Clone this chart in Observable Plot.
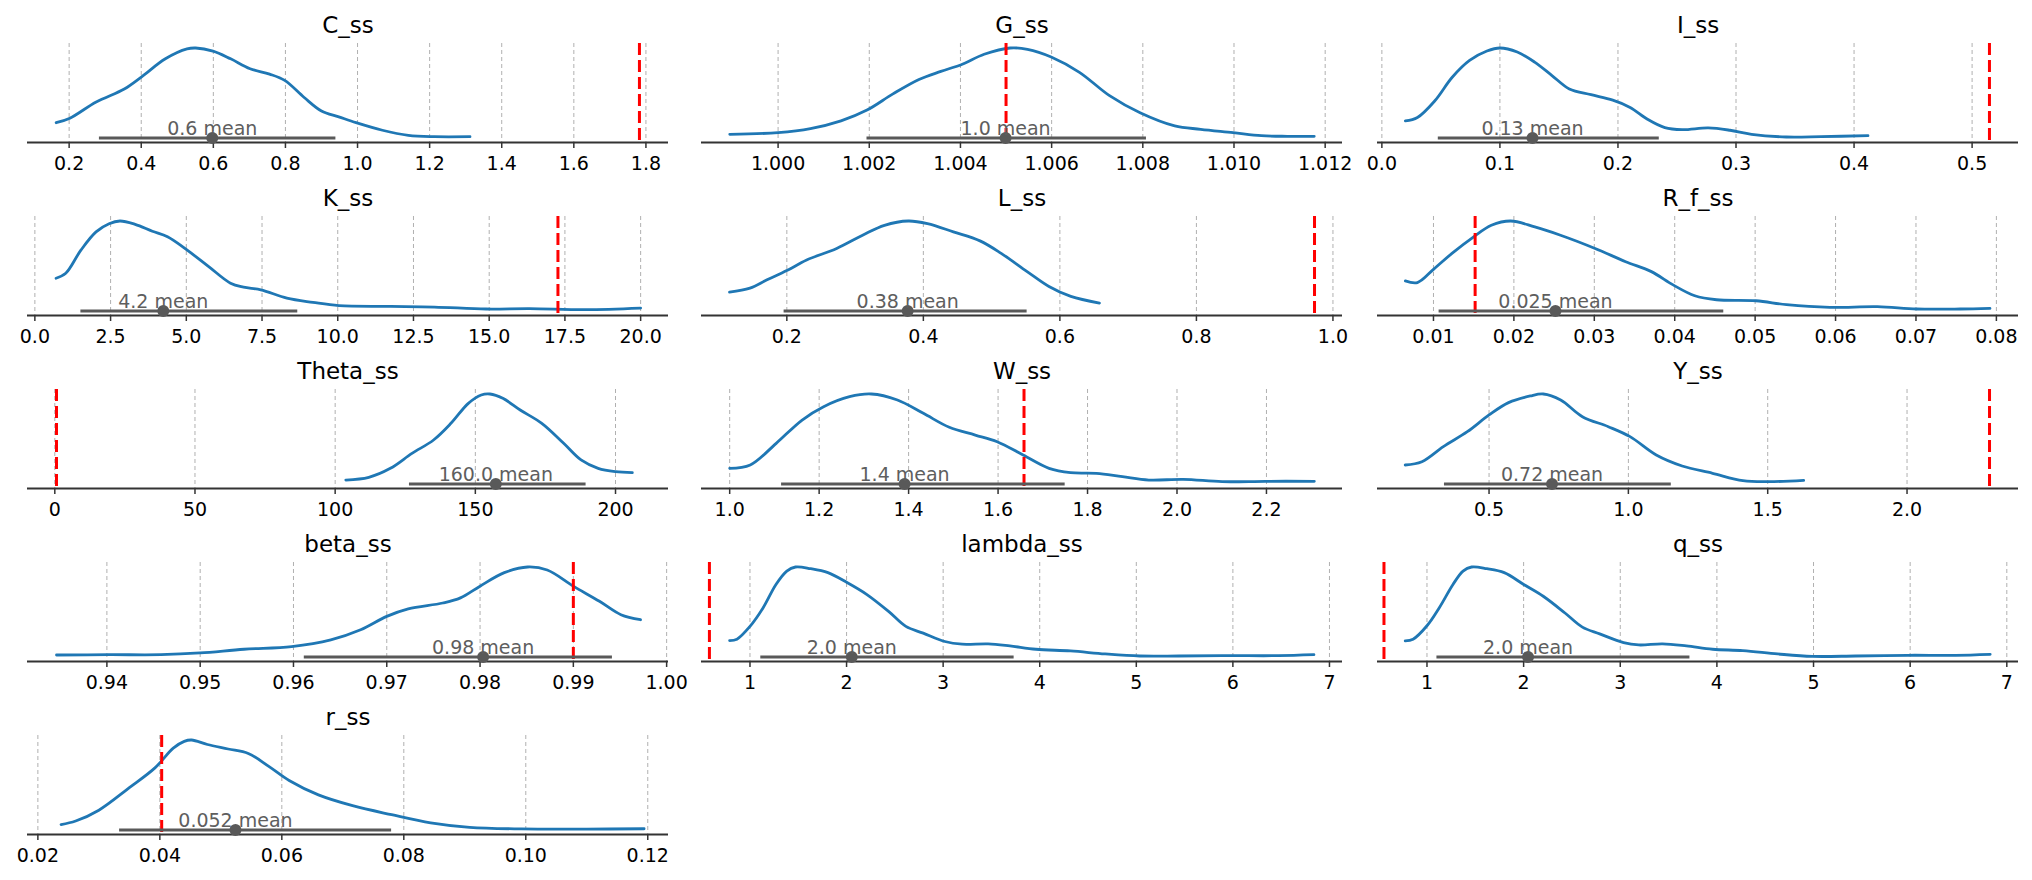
<!DOCTYPE html>
<html>
<head>
<meta charset="utf-8">
<script src="https://cdn.jsdelivr.net/npm/d3@7"></script>
<script src="https://cdn.jsdelivr.net/npm/@observablehq/plot@0.6"></script>
<style>
  html, body { margin: 0; padding: 0; background: white; }
  #root { position: relative; width: 2032px; height: 880px; overflow: hidden; background: white; }
  #root > svg { position: absolute; }
</style>
</head>
<body>
<div id="root"></div>
<script>
// ---- Data ----
const names = ["C_ss","G_ss","I_ss","K_ss","L_ss","R_f_ss","Theta_ss","W_ss","Y_ss","beta_ss","lambda_ss","q_ss","r_ss"];

// KDE curves: [value, density normalised to peak = 1]
const kde_C_ss = [[0.164,0.17],[0.202,0.22],[0.275,0.40],[0.353,0.545],[0.401,0.68],[0.467,0.88],[0.527,0.99],[0.551,1.0],[0.599,0.966],[0.648,0.88],[0.702,0.77],[0.756,0.71],[0.798,0.64],[0.852,0.45],[0.900,0.30],[0.948,0.235],[0.996,0.17],[1.069,0.086],[1.141,0.03],[1.213,0.015],[1.312,0.015]];
const kde_G_ss = [[0.99894,0.041],[1.0000,0.06],[1.00071,0.104],[1.00138,0.19],[1.00195,0.31],[1.00252,0.49],[1.00309,0.65],[1.00357,0.74],[1.00404,0.82],[1.00452,0.93],[1.00509,1.0],[1.00547,0.985],[1.00599,0.90],[1.00661,0.73],[1.00727,0.47],[1.00794,0.28],[1.00870,0.134],[1.00927,0.097],[1.00998,0.06],[1.01060,0.026],[1.01117,0.019],[1.01176,0.019]];
const kde_I_ss = [[0.0199,0.19],[0.0301,0.228],[0.0449,0.414],[0.0596,0.675],[0.0743,0.862],[0.0890,0.966],[0.1000,1.0],[0.1147,0.955],[0.1294,0.843],[0.1441,0.694],[0.1588,0.545],[0.1772,0.481],[0.1956,0.42],[0.2103,0.34],[0.2250,0.209],[0.2397,0.116],[0.2544,0.093],[0.2765,0.112],[0.2949,0.086],[0.3132,0.041],[0.3426,0.011],[0.3721,0.015],[0.4118,0.026]];
const kde_K_ss = [[0.70,0.364],[1.02,0.419],[1.52,0.676],[2.02,0.879],[2.45,0.97],[2.81,1.0],[3.31,0.963],[3.88,0.886],[4.38,0.824],[5.03,0.676],[5.74,0.493],[6.46,0.309],[6.89,0.265],[7.46,0.235],[8.32,0.143],[9.18,0.096],[10.04,0.059],[11.75,0.051],[13.19,0.044],[14.9,0.022],[16.33,0.026],[18.19,0.015],[20.0,0.033]];
const kde_L_ss = [[0.116,0.21],[0.146,0.254],[0.171,0.346],[0.200,0.449],[0.229,0.566],[0.273,0.695],[0.311,0.842],[0.343,0.952],[0.378,1.0],[0.406,0.971],[0.444,0.879],[0.483,0.779],[0.514,0.64],[0.552,0.4375],[0.584,0.272],[0.616,0.162],[0.658,0.088]];
const kde_R_f_ss = [[0.0065,0.335],[0.0080,0.316],[0.0100,0.463],[0.0123,0.64],[0.0150,0.824],[0.0172,0.952],[0.0196,1.0],[0.0226,0.934],[0.0258,0.842],[0.0301,0.695],[0.0339,0.548],[0.0371,0.4375],[0.0398,0.29],[0.0425,0.169],[0.0452,0.125],[0.0501,0.114],[0.0539,0.07],[0.0593,0.04],[0.0652,0.048],[0.0701,0.022],[0.0755,0.022],[0.0792,0.029]];
const kde_Theta_ss = [[103.8,0.044],[112.0,0.074],[119.7,0.174],[127.4,0.34],[135.1,0.489],[141.3,0.674],[147.5,0.896],[152.1,0.989],[155.2,1.0],[159.8,0.952],[166.0,0.822],[173.7,0.674],[181.5,0.452],[187.7,0.267],[193.8,0.174],[200.0,0.137],[206.0,0.126]];
const kde_W_ss = [[1.000,0.174],[1.046,0.211],[1.104,0.452],[1.162,0.711],[1.210,0.859],[1.268,0.97],[1.317,1.0],[1.375,0.933],[1.433,0.785],[1.491,0.63],[1.549,0.544],[1.598,0.47],[1.656,0.322],[1.714,0.174],[1.762,0.126],[1.820,0.119],[1.878,0.081],[1.937,0.044],[2.014,0.052],[2.101,0.026],[2.198,0.03],[2.307,0.03]];
const kde_Y_ss = [[0.199,0.211],[0.259,0.248],[0.336,0.415],[0.422,0.581],[0.500,0.767],[0.570,0.904],[0.648,0.978],[0.695,1.0],[0.757,0.933],[0.835,0.748],[0.928,0.637],[1.006,0.526],[1.100,0.322],[1.193,0.2],[1.302,0.119],[1.411,0.037],[1.505,0.026],[1.629,0.041]];
const kde_beta_ss = [[0.9346,0.022],[0.9402,0.026],[0.9458,0.026],[0.9500,0.045],[0.9547,0.086],[0.9598,0.116],[0.9640,0.19],[0.9672,0.302],[0.9700,0.451],[0.9723,0.534],[0.9760,0.60],[0.9779,0.657],[0.9800,0.787],[0.9826,0.937],[0.9851,1.0],[0.9872,0.966],[0.9900,0.787],[0.9928,0.619],[0.9951,0.47],[0.9972,0.414]];
const kde_lambda_ss = [[0.789,0.183],[0.865,0.198],[1.000,0.34],[1.135,0.545],[1.269,0.806],[1.381,0.955],[1.471,1.0],[1.628,0.981],[1.807,0.937],[2.009,0.825],[2.211,0.694],[2.435,0.507],[2.614,0.34],[2.794,0.265],[3.018,0.172],[3.197,0.142],[3.466,0.146],[3.691,0.123],[3.960,0.086],[4.318,0.067],[4.677,0.034],[5.036,0.011],[5.439,0.011],[5.933,0.015],[6.471,0.015],[6.839,0.026]];
const kde_q_ss = [[0.775,0.179],[0.856,0.198],[1.000,0.347],[1.126,0.545],[1.269,0.806],[1.373,0.955],[1.462,1.0],[1.620,0.981],[1.799,0.937],[2.001,0.806],[2.203,0.675],[2.428,0.489],[2.608,0.332],[2.787,0.257],[3.034,0.16],[3.191,0.134],[3.438,0.146],[3.685,0.123],[3.955,0.086],[4.269,0.071],[4.628,0.034],[4.987,0.007],[5.436,0.011],[5.975,0.019],[6.469,0.019],[6.828,0.03]];
const kde_r_ss = [[0.0238,0.06],[0.0262,0.10],[0.0300,0.22],[0.0350,0.47],[0.0392,0.69],[0.0422,0.91],[0.0440,0.985],[0.0452,1.0],[0.0478,0.95],[0.0512,0.90],[0.0545,0.85],[0.0578,0.71],[0.0612,0.55],[0.0660,0.39],[0.0716,0.27],[0.0780,0.17],[0.0844,0.08],[0.0908,0.03],[0.0993,0.012],[0.1100,0.01],[0.1194,0.014]];

const means      = [0.597, 1.00499, 0.1276, 4.24, 0.377, 0.02517, 157.3, 1.391, 0.726, 0.98033, 2.054, 2.046, 0.0524];
const meanLabels = ["0.6 mean","1.0 mean","0.13 mean","4.2 mean","0.38 mean","0.025 mean","160.0 mean","1.4 mean","0.72 mean","0.98 mean","2.0 mean","2.0 mean","0.052 mean"];
const hdiLow     = [0.284, 1.00195, 0.0478, 1.52, 0.196, 0.0107, 126.5, 1.116, 0.340, 0.96116, 1.112, 1.103, 0.0334];
const hdiHigh    = [0.940, 1.00808, 0.235, 8.68, 0.552, 0.0461, 189.5, 1.750, 1.154, 0.99419, 3.735, 3.721, 0.0780];
const refValues  = [1.782, 1.005, 0.5147, 17.27, 0.973, 0.01518, 0.6, 1.658, 2.296, 0.990, 0.58, 0.555, 0.0403];

const tickValues = [
  [0.2,0.4,0.6,0.8,1.0,1.2,1.4,1.6,1.8],
  [1.000,1.002,1.004,1.006,1.008,1.010,1.012],
  [0.0,0.1,0.2,0.3,0.4,0.5],
  [0.0,2.5,5.0,7.5,10.0,12.5,15.0,17.5,20.0],
  [0.2,0.4,0.6,0.8,1.0],
  [0.01,0.02,0.03,0.04,0.05,0.06,0.07,0.08],
  [0,50,100,150,200],
  [1.0,1.2,1.4,1.6,1.8,2.0,2.2],
  [0.5,1.0,1.5,2.0],
  [0.94,0.95,0.96,0.97,0.98,0.99,1.00],
  [1,2,3,4,5,6,7],
  [1,2,3,4,5,6,7],
  [0.02,0.04,0.06,0.08,0.10,0.12]
];
const tickLabels = [
  ["0.2","0.4","0.6","0.8","1.0","1.2","1.4","1.6","1.8"],
  ["1.000","1.002","1.004","1.006","1.008","1.010","1.012"],
  ["0.0","0.1","0.2","0.3","0.4","0.5"],
  ["0.0","2.5","5.0","7.5","10.0","12.5","15.0","17.5","20.0"],
  ["0.2","0.4","0.6","0.8","1.0"],
  ["0.01","0.02","0.03","0.04","0.05","0.06","0.07","0.08"],
  ["0","50","100","150","200"],
  ["1.0","1.2","1.4","1.6","1.8","2.0","2.2"],
  ["0.5","1.0","1.5","2.0"],
  ["0.94","0.95","0.96","0.97","0.98","0.99","1.00"],
  ["1","2","3","4","5","6","7"],
  ["1","2","3","4","5","6","7"],
  ["0.02","0.04","0.06","0.08","0.10","0.12"]
];
// x-axis limits as seen in each panel
const xDomains = [
  [0.0845, 1.8626],[0.99832, 1.01238],[-0.0037, 0.5393],
  [-0.243, 20.92],[0.075, 1.014],[0.00304, 0.08275],
  [-9.74, 218.9],[0.937, 2.370],[0.0997, 2.400],
  [0.93149, 1.0002],[0.498, 7.135],[0.488, 7.121],
  [0.0183, 0.1234]
];
const kdes = [kde_C_ss,kde_G_ss,kde_I_ss,kde_K_ss,kde_L_ss,kde_R_f_ss,kde_Theta_ss,kde_W_ss,kde_Y_ss,kde_beta_ss,kde_lambda_ss,kde_q_ss,kde_r_ss];

// ---- Layout ----
const colLeft = [0, 677, 1355];
const colWidth = [677, 678, 677];
const colMarginLeft = [27, 24, 22];
const colMarginRight = [9, 13, 14];
const rowPitch = 173.1;
const panelHeight = 176;
const mTop = 43, mBottom = 34;

const root = document.getElementById("root");
const gray = "#595959";

names.forEach((name, i) => {
  const col = i % 3, row = Math.floor(i / 3);
  const kde = kdes[i].map(([x, y]) => ({x, y}));
  const chart = Plot.plot({
    width: colWidth[col],
    height: panelHeight,
    marginLeft: colMarginLeft[col],
    marginRight: colMarginRight[col],
    marginTop: mTop,
    marginBottom: mBottom,
    style: {fontFamily: "DejaVu Sans", fontSize: "19px", background: "transparent", overflow: "visible", color: "black"},
    x: {domain: xDomains[i], label: null},
    y: {domain: [-0.05, 1.05], axis: null},
    marks: [
      Plot.ruleX(tickValues[i], {stroke: "#b0b0b0", strokeWidth: 1, strokeDasharray: "4,3"}),
      Plot.ruleY([-0.05], {stroke: "#333333", strokeWidth: 2}),
      Plot.axisX({ticks: tickValues[i], tickFormat: (d, j) => tickLabels[i][j], tickSize: 6, tickPadding: 8, stroke: "#333333", strokeWidth: 1.5, fill: "black", fontSize: 19}),
      Plot.line(kde, {x: "x", y: "y", stroke: "#1f77b4", strokeWidth: 2.8, curve: "catmull-rom"}),
      Plot.ruleX([refValues[i]], {stroke: "red", strokeWidth: 3, strokeDasharray: "12,5"}),
      Plot.ruleY([{x1: hdiLow[i], x2: hdiHigh[i], y: 0}], {x1: "x1", x2: "x2", y: "y", stroke: gray, strokeWidth: 3}),
      Plot.dot([{x: means[i], y: 0}], {x: "x", y: "y", r: 6, fill: gray, stroke: "none"}),
      Plot.text([{x: means[i], y: 0, t: meanLabels[i]}], {x: "x", y: "y", text: "t", lineAnchor: "bottom", textAnchor: "middle", dy: -3, fontSize: 19, fill: "#5e5e5e"}),
      Plot.text([name], {frameAnchor: "top", lineAnchor: "bottom", dy: -10.5, fontSize: 23, fill: "black"})
    ]
  });
  chart.style.left = colLeft[col] + "px";
  chart.style.top = Math.round(row * rowPitch) + "px";
  root.appendChild(chart);
});
</script>
</body>
</html>
